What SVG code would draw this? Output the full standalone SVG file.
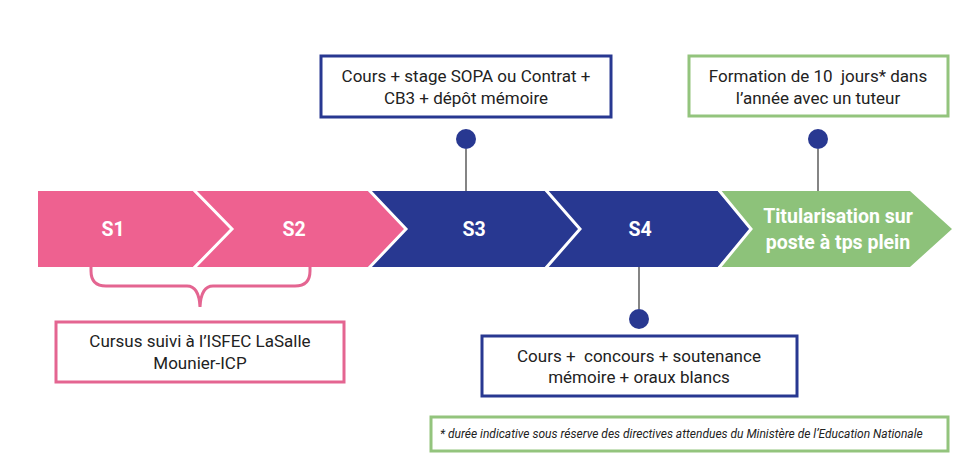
<svg xmlns="http://www.w3.org/2000/svg" width="954" height="459" viewBox="0 0 954 459">
<style>
text{white-space:pre}
.stage{font-family:Roboto,"Liberation Sans",sans-serif;font-weight:bold;font-size:19.5px;fill:#fff;text-anchor:middle}
.lbl{font-family:Roboto,"Liberation Sans",sans-serif;font-size:17px;fill:#222;text-anchor:middle}
.note{font-family:Roboto,"Liberation Sans",sans-serif;font-size:12px;font-style:italic;fill:#222}
.sep{fill:none;stroke:#fff;stroke-width:3}
.pinkbox{fill:#fff;stroke:#E46591;stroke-width:3}
.bluebox{fill:#fff;stroke:#283891;stroke-width:3}
.greenbox{fill:#fff;stroke:#93C47D;stroke-width:3}
.conn{stroke:#333;stroke-width:1.2}
.dot{fill:#283891}
</style>
<rect width="954" height="459" fill="#fff"/>
<g id="stage-s1">
<polygon points="38,191 193,191 232,229 193,267 38,267" fill="#EE6190"/>
<text class="stage" x="113" y="236">S1</text>
</g>
<g id="stage-s2">
<polygon points="193,191 368,191 406,229 368,267 193,267 232,229" fill="#EE6190"/>
<text class="stage" x="294" y="236">S2</text>
</g>
<g id="stage-s3">
<polygon points="368,191 545,191 580,229 545,267 368,267 406,229" fill="#283891"/>
<text class="stage" x="474" y="236">S3</text>
</g>
<g id="stage-s4">
<polygon points="545,191 718,191 751,229 718,267 545,267 580,229" fill="#283891"/>
<text class="stage" x="640" y="236">S4</text>
</g>
<g id="stage-titularisation">
<polygon points="718,191 910,191 952,229 910,267 718,267 751,229" fill="#8DC27A"/>
<text class="stage" x="838" y="223">Titularisation sur</text>
<text class="stage" x="838" y="249">poste à tps plein</text>
</g>
<g id="separators">
<polyline class="sep" points="193,189 232,229 193,269"/>
<polyline class="sep" points="368,189 406,229 368,269"/>
<polyline class="sep" points="545,189 580,229 545,269"/>
<polyline class="sep" points="718,189 751,229 718,269"/>
</g>
<g id="connectors">
<line class="conn" x1="466" y1="149" x2="466" y2="191"/>
<circle class="dot" cx="466" cy="139" r="10"/>
<line class="conn" x1="818" y1="149" x2="818" y2="191"/>
<circle class="dot" cx="818" cy="139" r="10"/>
<line class="conn" x1="639" y1="267" x2="639" y2="309"/>
<circle class="dot" cx="639" cy="319" r="10"/>
<path d="M91,267 V271 Q91,286 106,286 H187 Q199,286 200,307 Q201,286 213,286 H295 Q310,286 310,271 V267" fill="none" stroke="#E46591" stroke-width="3"/>
</g>
<g id="box-s3">
<rect class="bluebox" x="321" y="56" width="290" height="61"/>
<text class="lbl" x="466" y="82">Cours + stage SOPA ou Contrat +</text>
<text class="lbl" x="466" y="104">CB3 + dépôt mémoire</text>
</g>
<g id="box-titularisation">
<rect class="greenbox" x="689" y="56" width="259" height="60"/>
<text class="lbl" x="818" y="82">Formation de 10  jours* dans</text>
<text class="lbl" x="818" y="104">l’année avec un tuteur</text>
</g>
<g id="box-cursus">
<rect class="pinkbox" x="56" y="322" width="288" height="60"/>
<text class="lbl" x="200" y="347">Cursus suivi à l’ISFEC LaSalle</text>
<text class="lbl" x="200" y="369">Mounier-ICP</text>
</g>
<g id="box-s4">
<rect class="bluebox" x="482" y="336" width="315" height="60"/>
<text class="lbl" x="639" y="362">Cours +  concours + soutenance</text>
<text class="lbl" x="639" y="383">mémoire + oraux blancs</text>
</g>
<g id="footnote">
<rect class="greenbox" x="431" y="417" width="517" height="34"/>
<text class="note" x="440" y="438">* durée indicative sous réserve des directives attendues du Ministère de l’Education Nationale</text>
</g>
</svg>
